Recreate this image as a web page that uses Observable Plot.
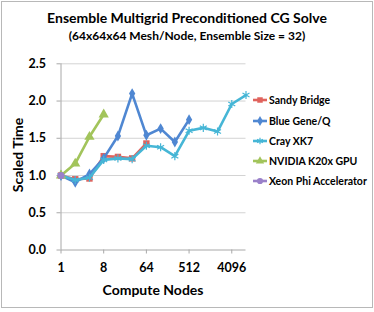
<!DOCTYPE html>
<html><head><meta charset="utf-8">
<script src="https://cdn.jsdelivr.net/npm/d3@7"></script>
<script src="https://cdn.jsdelivr.net/npm/@observablehq/plot@0.6"></script>
<style>
body{margin:0;background:#fff;font-family:Lato,"Liberation Sans",sans-serif;}
#wrap{position:relative;width:374px;height:312px;overflow:hidden;background:#fff;}
#frame{position:absolute;left:1px;top:1px;width:370px;height:305px;border:1px solid #b8b8b8;}
.t{position:absolute;font-weight:bold;color:#000;white-space:nowrap;}
#title{left:0;width:374px;text-align:center;top:9px;font-size:14px;}
#sub{left:0;width:374px;text-align:center;top:28px;font-size:12px;}
#xlab{left:60px;width:186px;text-align:center;top:281px;font-size:14px;}
#ylab{left:17px;top:155px;font-size:14px;transform:translate(-50%,-50%) rotate(-90deg);}
#plot{position:absolute;left:0;top:0;}
.leg{position:absolute;left:252px;height:14px;display:flex;align-items:center;font-size:10.5px;font-weight:bold;white-space:nowrap;}
.leg svg{margin-right:1px;}
</style></head><body>
<div id="wrap">
<div id="frame"></div>
<div id="plot"></div>
<div class="t" id="title">Ensemble Multigrid Preconditioned CG Solve</div>
<div class="t" id="sub">(64x64x64 Mesh/Node, Ensemble Size = 32)</div>
<div class="t" id="xlab">Compute Nodes</div>
<div class="t" id="ylab">Scaled Time</div>
<div id="legend"></div>
</div>
<script>
const nodes = [1,2,4,8,16,32,64,128,256,512,1024,2048,4096,8192];
const sandyBridge = [1.00,0.95,0.96,1.26,1.25,1.23,1.43];
const blueGeneQ   = [1.00,0.91,1.02,1.23,1.53,2.10,1.54,1.63,1.45,1.75];
const crayXK7     = [1.00,0.94,0.97,1.21,1.23,1.22,1.40,1.38,1.26,1.60,1.64,1.59,1.96,2.08];
const nvidiaK20x  = [1.00,1.16,1.52,1.82];
const xeonPhi     = [1.00];
const seriesNames   = ["Sandy Bridge","Blue Gene/Q","Cray XK7","NVIDIA K20x GPU","Xeon Phi Accelerator"];
const seriesValues  = [sandyBridge, blueGeneQ, crayXK7, nvidiaK20x, xeonPhi];
const seriesColors  = ["#e0635d","#4f87d2","#46b6d6","#a2c45b","#9a80c9"];
const seriesSymbols = ["square","diamond","asterisk","triangle","circle"];
const seriesSizes   = [3.6, 3.3, 3.8, 3.8, 3.6];
const xTicks = [1,8,64,512,4096];
const yTicks = [0,0.5,1,1.5,2,2.5];

const rows = [];
seriesValues.forEach((vals, s) => vals.forEach((v, i) => rows.push({series: seriesNames[s], idx: s, nodes: nodes[i], value: v})));

const marks = [
  Plot.gridY(yTicks.filter(d => d > 0), {stroke: "#d3d3d3", strokeOpacity: 1, strokeWidth: 1}),
  Plot.ruleY([0], {stroke: "#a8a8a8"}),
  Plot.ruleX([1], {stroke: "#a8a8a8"}),
  Plot.axisY(yTicks, {label: null, tickSize: 4, tickPadding: 11, stroke: "#a8a8a8", fill: "#000", fontSize: 12.5, fontWeight: "bold", tickFormat: d3.format(".1f")}),
  Plot.axisX(xTicks, {label: null, tickSize: 4, tickPadding: 9, stroke: "#a8a8a8", fill: "#000", fontSize: 12.5, fontWeight: "bold", tickFormat: d => String(d)})
];
seriesNames.forEach((name, s) => {
  const data = rows.filter(r => r.idx === s);
  marks.push(Plot.line(data, {x: "nodes", y: "value", stroke: seriesColors[s], strokeWidth: 2.6, strokeLinejoin: "round"}));
  if (seriesSymbols[s] === "asterisk") {
    marks.push(Plot.dot(data, {x: "nodes", y: "value", symbol: "asterisk", r: seriesSizes[s], stroke: seriesColors[s], strokeWidth: 1.2}));
  } else {
    marks.push(Plot.dot(data, {x: "nodes", y: "value", symbol: seriesSymbols[s], r: seriesSizes[s], fill: seriesColors[s], stroke: "none"}));
  }
});

const chart = Plot.plot({
  width: 374, height: 312,
  marginLeft: 60.5, marginRight: 128.5, marginTop: 63.3, marginBottom: 62.5,
  style: {background: "transparent", fontFamily: "Lato, 'Liberation Sans', sans-serif"},
  x: {type: "log", base: 2, domain: [1, 8192], axis: null},
  y: {domain: [0, 2.5], axis: null},
  marks
});
document.getElementById("plot").appendChild(chart);

const legendTops = [100, 120.7, 140.7, 160.7, 180.7];
const leg = document.getElementById("legend");
seriesNames.forEach((name, s) => {
  const div = document.createElement("div");
  div.className = "leg";
  div.style.top = (legendTops[s] - 7) + "px";
  const sym = {square: d3.symbolSquare, diamond: d3.symbolDiamond, asterisk: d3.symbolAsterisk, triangle: d3.symbolTriangle, circle: d3.symbolCircle}[seriesSymbols[s]];
  const path = d3.symbol(sym, 30)();
  const isStroke = seriesSymbols[s] === "asterisk";
  div.innerHTML = `<svg width="16" height="14"><line x1="1" x2="15" y1="7" y2="7" stroke="${seriesColors[s]}" stroke-width="2.6"/><path transform="translate(8,7)" d="${path}" ${isStroke ? `fill="none" stroke="${seriesColors[s]}" stroke-width="1.2"` : `fill="${seriesColors[s]}"`}/></svg><span>${name}</span>`;
  leg.appendChild(div);
});
</script>
</body></html>
